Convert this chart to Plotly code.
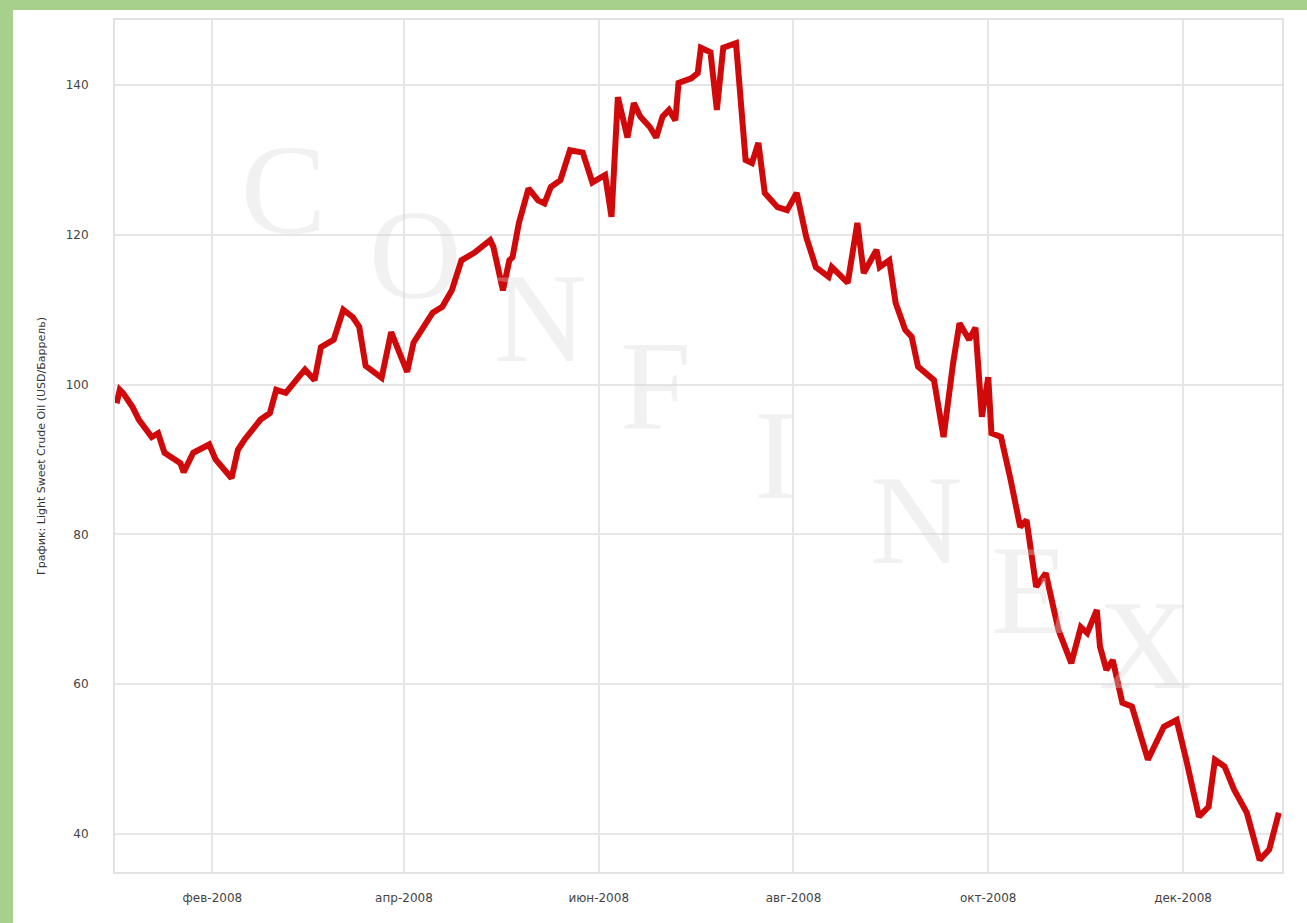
import plotly.graph_objects as go
import pandas as pd

# Daily-ish readings of Light Sweet Crude Oil (USD/barrel), 2008
dates = [
    "2008-01-02", "2008-01-03", "2008-01-04", "2008-01-07", "2008-01-09", "2008-01-11",
    "2008-01-13", "2008-01-15", "2008-01-17", "2008-01-22", "2008-01-23", "2008-01-26",
    "2008-01-31", "2008-02-02", "2008-02-04", "2008-02-07", "2008-02-09", "2008-02-11",
    "2008-02-16", "2008-02-19", "2008-02-21", "2008-02-24", "2008-02-28", "2008-03-01",
    "2008-03-04", "2008-03-06", "2008-03-10", "2008-03-13", "2008-03-16", "2008-03-18",
    "2008-03-20", "2008-03-25", "2008-03-28", "2008-03-30", "2008-04-02", "2008-04-04",
    "2008-04-10", "2008-04-13", "2008-04-16", "2008-04-19", "2008-04-23", "2008-04-28",
    "2008-04-29", "2008-05-02", "2008-05-04", "2008-05-05", "2008-05-07", "2008-05-10",
    "2008-05-13", "2008-05-15", "2008-05-17", "2008-05-20", "2008-05-23", "2008-05-27",
    "2008-05-30", "2008-06-03", "2008-06-05", "2008-06-07", "2008-06-10", "2008-06-12",
    "2008-06-14", "2008-06-17", "2008-06-19", "2008-06-21", "2008-06-23", "2008-06-25",
    "2008-06-26", "2008-06-30", "2008-07-02", "2008-07-03", "2008-07-06", "2008-07-08",
    "2008-07-10", "2008-07-14", "2008-07-17", "2008-07-19", "2008-07-21", "2008-07-23",
    "2008-07-27", "2008-07-30", "2008-08-02", "2008-08-05", "2008-08-08", "2008-08-12",
    "2008-08-13", "2008-08-18", "2008-08-21", "2008-08-23", "2008-08-27", "2008-08-28",
    "2008-08-31", "2008-09-02", "2008-09-05", "2008-09-07", "2008-09-09", "2008-09-14",
    "2008-09-17", "2008-09-20", "2008-09-22", "2008-09-25", "2008-09-27", "2008-09-29",
    "2008-10-01", "2008-10-02", "2008-10-05", "2008-10-08", "2008-10-11", "2008-10-13",
    "2008-10-16", "2008-10-19", "2008-10-23", "2008-10-27", "2008-10-30", "2008-11-01",
    "2008-11-04", "2008-11-05", "2008-11-07", "2008-11-09", "2008-11-12", "2008-11-15",
    "2008-11-20", "2008-11-25", "2008-11-29", "2008-12-02", "2008-12-06", "2008-12-09",
    "2008-12-11", "2008-12-14", "2008-12-17", "2008-12-21", "2008-12-25", "2008-12-28",
    "2008-12-31",
]
prices = [
    97.5, 99.3, 98.9, 97.0, 95.3, 94.0,
    93.0, 93.5, 90.9, 89.5, 88.3, 90.9,
    92.0, 90.0, 89.0, 87.5, 91.3, 92.6,
    95.3, 96.2, 99.3, 98.9, 101.0, 102.0,
    100.6, 105.0, 106.0, 110.0, 109.0, 107.7,
    102.5, 100.9, 107.0, 105.0, 101.7, 105.6,
    109.6, 110.4, 112.6, 116.6, 117.6, 119.3,
    118.4, 112.6, 116.6, 117.0, 121.6, 126.2,
    124.6, 124.2, 126.4, 127.3, 131.3, 131.0,
    127.0, 128.0, 122.4, 138.4, 133.0, 137.6,
    135.8, 134.4, 133.0, 135.8, 136.7, 135.3,
    140.3, 140.9, 141.6, 145.0, 144.4, 136.7,
    145.0, 145.6, 130.0, 129.6, 132.3, 125.6,
    123.7, 123.3, 125.6, 119.7, 115.7, 114.4,
    115.7, 113.6, 121.6, 114.9, 118.0, 115.7,
    116.6, 110.9, 107.3, 106.4, 102.4, 100.6,
    93.0, 102.9, 108.2, 106.0, 107.6, 95.7,
    101.0, 93.5, 93.0, 87.3, 81.0, 81.9,
    73.0, 74.8, 67.2, 62.8, 67.6, 66.8,
    69.9, 65.0, 61.9, 63.2, 57.5, 57.0,
    49.9, 54.3, 55.2, 49.9, 42.3, 43.6,
    49.9, 49.0, 45.9, 42.8, 36.5, 37.9,
    42.8,
]

tick_dates = ["2008-02-01", "2008-04-01", "2008-06-01", "2008-08-01", "2008-10-01", "2008-12-01"]
tick_labels = ["фев-2008", "апр-2008", "июн-2008", "авг-2008", "окт-2008", "дек-2008"]
y_ticks = [40, 60, 80, 100, 120, 140]
y_title = "График: Light Sweet Crude Oil (USD/Баррель)"
watermark = list("CONFINEX")

fig = go.Figure()
fig.add_trace(go.Scatter(
    x=pd.to_datetime(dates), y=prices, mode="lines",
    line=dict(color="#d00a0a", width=6, shape="linear"),
    showlegend=False, hoverinfo="x+y",
))

# Diagonal "CONFINEX" watermark positions (paper coords)
wm_pos = [(0.144, 0.800), (0.257, 0.724), (0.364, 0.650), (0.463, 0.572),
          (0.566, 0.489), (0.686, 0.413), (0.784, 0.331), (0.883, 0.266)]
for ch, (px, py) in zip(watermark, wm_pos):
    fig.add_annotation(x=px, y=py, xref="paper", yref="paper", text=ch,
                       showarrow=False, xanchor="center", yanchor="middle",
                       font=dict(family="Liberation Serif, DejaVu Serif, serif",
                                 size=128, color="rgba(215,215,215,0.35)"))

# green frame (top/left) and white page
fig.add_shape(type="rect", xref="paper", yref="paper",
              x0=-0.0874, x1=1.1, y0=-0.2, y1=1.0117,
              fillcolor="white", line=dict(width=0), layer="below")

fig.update_layout(
    width=1307, height=923,
    margin=dict(l=115, r=25, t=20, b=51),
    paper_bgcolor="#a8d08d",
    plot_bgcolor="white",
    font=dict(family="DejaVu Sans, Verdana, sans-serif", color="#444444", size=12),
)
fig.update_xaxes(
    type="date", range=["2008-01-01 12:00", "2009-01-01"],
    tickvals=pd.to_datetime(tick_dates), ticktext=tick_labels,
    showgrid=True, gridcolor="#e6e6e6", gridwidth=1.5,
    showline=True, linecolor="#e2e2e2", linewidth=2, mirror=True,
    ticks="", ticklabelstandoff=14, tickfont=dict(size=12, color="#444444"),
    zeroline=False,
)
fig.update_yaxes(
    range=[34.9, 148.7], tickvals=y_ticks,
    showgrid=True, gridcolor="#e6e6e6", gridwidth=1.5,
    showline=True, linecolor="#e2e2e2", linewidth=2, mirror=True,
    ticks="", ticklabelstandoff=22, tickfont=dict(size=12, color="#444444"),
    title=dict(text=y_title, font=dict(size=11, color="#333333"), standoff=18),
    zeroline=False,
)

fig.write_html("out.html", config={"displayModeBar": False},
               post_script="document.body.style.margin='0';")
